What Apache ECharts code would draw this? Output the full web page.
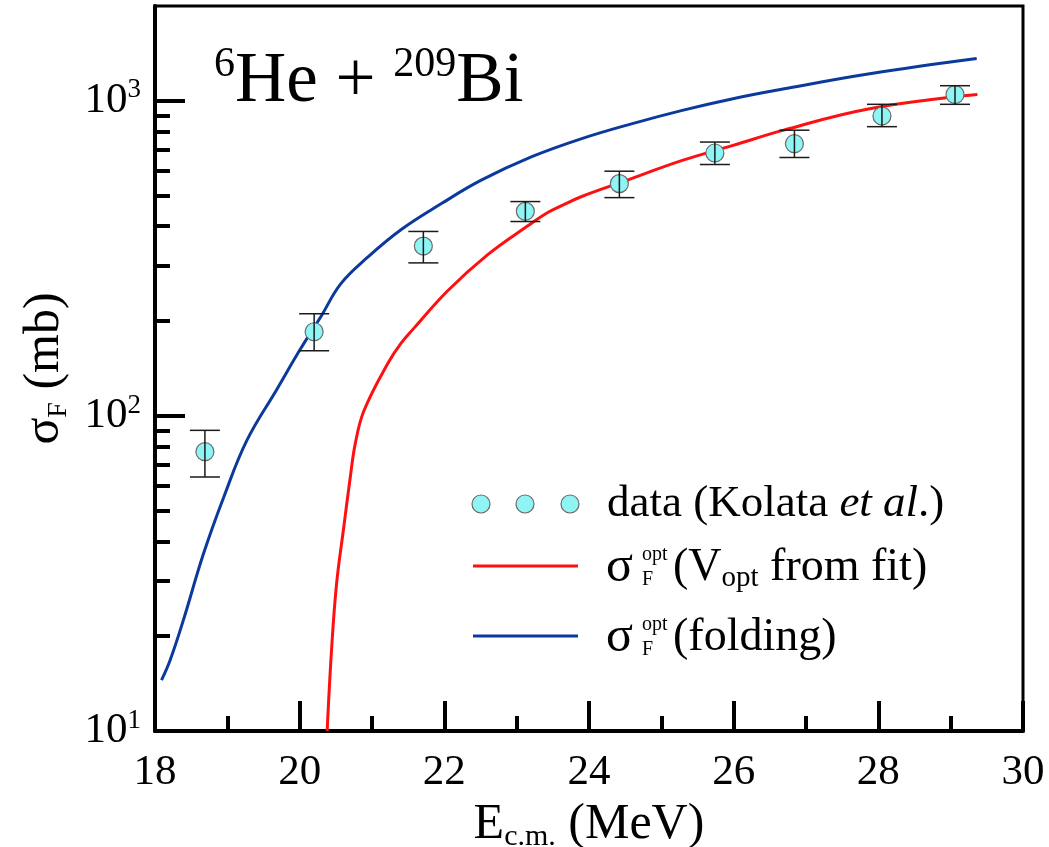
<!DOCTYPE html>
<html>
<head>
<meta charset="utf-8">
<script src="https://cdn.jsdelivr.net/npm/echarts@6/dist/echarts.min.js"></script>
<style>
  html, body { margin: 0; padding: 0; background: #fff; }
  #chart { width: 1049px; height: 847px; }
</style>
</head>
<body>
<div id="chart"></div>
<script>
const SERIF = '"Liberation Serif", "Times New Roman", serif';

// Fission cross sections, data of Kolata et al. (E_cm in MeV, sigma in mb)
const dataE     = [18.69, 20.20, 21.71, 23.12, 24.42, 25.74, 26.84, 28.05, 29.06];
const dataSigma = [77, 185, 346, 446, 546, 683, 731, 895, 1047];
const dataLow   = [64, 161, 306, 414, 493, 628, 661, 828, 975];
const dataHigh  = [90, 211, 385, 479, 598, 740, 807, 975, 1117];

// sigma_F^opt with V_opt from fit
const fitE     = [20.38, 20.44, 20.51, 20.61, 20.70, 20.77, 20.89, 21.22, 21.40, 21.59, 22.05, 22.60, 23.16, 23.43, 23.63, 23.90, 24.46, 25.29, 25.99, 26.68, 27.88, 29.37];
const fitSigma = [10, 18, 29.3, 44.4, 64, 82, 104, 147, 170, 191, 250, 325, 402, 442, 466, 497, 553, 647, 722, 806, 944, 1047];

// sigma_F^opt from the folding potential
const foldE     = [18.09, 18.21, 18.39, 18.67, 18.95, 19.27, 19.69, 20.01, 20.29, 20.57, 20.94, 21.40, 21.96, 22.51, 23.21, 23.90, 24.60, 25.29, 25.99, 26.68, 27.88, 29.36];
const foldSigma = [14.5, 16.8, 22.4, 36.5, 55.2, 83.6, 122, 163, 206, 263, 319, 390, 472, 560, 665, 759, 847, 933, 1016, 1090, 1219, 1362];

// Axis ticks
const yMajorTicks = [10, 100, 1000];
const yMinorTicks = [20, 30, 40, 50, 60, 70, 80, 90, 200, 300, 400, 500, 600, 700, 800, 900];

const zip = (xs, ys) => xs.map((x, i) => [x, ys[i]]);

const chart = echarts.init(document.getElementById('chart'), null, { renderer: 'canvas' });

const tickStyle = { color: '#000', width: 4 };
const txt = (size, extra) => Object.assign({ fontSize: size, fontFamily: SERIF, color: '#000' }, extra || {});

const option = {
  animation: false,
  backgroundColor: '#fff',
  textStyle: { fontFamily: SERIF, color: '#000' },
  grid: {
    left: 155, right: 26, top: 6, bottom: 116,
    outerBoundsMode: 'none',
    containLabel: false,
    show: true, borderColor: '#000', borderWidth: 3, backgroundColor: 'transparent'
  },
  xAxis: {
    type: 'value', min: 18, max: 30, interval: 2,
    name: '{e|E}{sub|c.m.}{e| (MeV)}',
    nameLocation: 'middle', nameGap: 62,
    nameTextStyle: {
      fontFamily: SERIF,
      rich: {
        e: txt(50, { lineHeight: 56 }),
        sub: txt(30, { verticalAlign: 'bottom', lineHeight: 52 })
      }
    },
    axisLine: { lineStyle: tickStyle },
    axisTick: { inside: true, length: 30, lineStyle: tickStyle },
    minorTick: { show: true, splitNumber: 2, length: 15, lineStyle: tickStyle },
    splitLine: { show: false },
    minorSplitLine: { show: false },
    axisLabel: {
      margin: 19,
      fontFamily: SERIF,
      fontSize: 43,
      color: '#000',
      formatter: v => '{a|' + v + '}',
      rich: { a: txt(43, { lineHeight: 46 }) }
    }
  },
  yAxis: [
    {
      type: 'log', logBase: 10, min: 10, max: 2000,
      name: '{s|σ}{sub|F}{s| (mb)}',
      nameLocation: 'middle', nameGap: 82, nameRotate: 90,
      nameTextStyle: {
        fontFamily: SERIF,
        rich: {
          s: txt(50, { lineHeight: 56 }),
          sub: txt(28, { verticalAlign: 'bottom', lineHeight: 52 })
        }
      },
      axisLine: { lineStyle: tickStyle },
      axisTick: { inside: true, length: 30, lineStyle: tickStyle, customValues: yMajorTicks },
      splitLine: { show: false },
      axisLabel: {
        customValues: yMajorTicks,
        margin: 14,
        fontFamily: SERIF,
        formatter: v => '{b|10}{p|' + Math.round(Math.log10(v)) + '}',
        rich: {
          b: txt(43, { lineHeight: 48 }),
          p: txt(27, { verticalAlign: 'top', lineHeight: 48 })
        }
      }
    },
    {
      type: 'log', logBase: 10, min: 10, max: 2000, position: 'left',
      axisLine: { show: false },
      axisTick: { inside: true, length: 15, lineStyle: tickStyle, customValues: yMinorTicks },
      axisLabel: { show: false },
      splitLine: { show: false }
    }
  ],
  series: [
    {
      name: 'folding', type: 'line', data: zip(foldE, foldSigma),
      smooth: 0.4, showSymbol: false,
      lineStyle: { color: '#0c3a9c', width: 3 }, z: 3
    },
    {
      name: 'fit', type: 'line', data: zip(fitE, fitSigma),
      smooth: 0.4, showSymbol: false,
      lineStyle: { color: '#ff1010', width: 3 }, z: 3
    },
    {
      name: 'data', type: 'scatter', data: zip(dataE, dataSigma),
      symbol: 'circle', symbolSize: 18,
      itemStyle: { color: '#8ff4f4', borderColor: '#6a6a6a', borderWidth: 1.2, opacity: 1 },
      z: 4
    },
    {
      name: 'errors', type: 'custom',
      data: dataE.map((x, i) => [x, dataLow[i], dataHigh[i]]),
      renderItem: (params, api) => {
        const x = api.value(0);
        const lo = api.coord([x, api.value(1)]);
        const hi = api.coord([x, api.value(2)]);
        const half = 15;
        const st = { stroke: '#1a1a1a', lineWidth: 1.5 };
        return {
          type: 'group',
          children: [
            { type: 'line', shape: { x1: hi[0], y1: hi[1], x2: lo[0], y2: lo[1] }, style: st },
            { type: 'line', shape: { x1: hi[0] - half, y1: hi[1], x2: hi[0] + half, y2: hi[1] }, style: st },
            { type: 'line', shape: { x1: lo[0] - half, y1: lo[1], x2: lo[0] + half, y2: lo[1] }, style: st }
          ]
        };
      },
      z: 5
    }
  ],
  graphic: [
    // reaction label
    {
      type: 'text', x: 214, y: 82,
      style: {
        text: '{p|6}{n|He + }{p|209}{n|Bi}',
        verticalAlign: 'middle',
        rich: {
          n: { fontSize: 71, fontFamily: SERIF, fill: '#000', lineHeight: 76 },
          p: { fontSize: 42, fontFamily: SERIF, fill: '#000', verticalAlign: 'top', lineHeight: 76 }
        }
      }
    },
    // legend: data symbols
    { type: 'circle', shape: { cx: 481, cy: 504, r: 9 }, style: { fill: '#8ff4f4', stroke: '#6a6a6a', lineWidth: 1.2 } },
    { type: 'circle', shape: { cx: 525, cy: 504, r: 9 }, style: { fill: '#8ff4f4', stroke: '#6a6a6a', lineWidth: 1.2 } },
    { type: 'circle', shape: { cx: 570, cy: 504, r: 9 }, style: { fill: '#8ff4f4', stroke: '#6a6a6a', lineWidth: 1.2 } },
    {
      type: 'text', x: 607, y: 504,
      style: {
        text: '{n|data (Kolata }{i|et al}{n|.)}',
        verticalAlign: 'middle',
        rich: {
          n: { fontSize: 45, fontFamily: SERIF, fill: '#000' },
          i: { fontSize: 45, fontFamily: SERIF, fontStyle: 'italic', fill: '#000' }
        }
      }
    },
    // legend: fit curve
    { type: 'line', shape: { x1: 473, y1: 566, x2: 578, y2: 566 }, style: { stroke: '#ff1010', lineWidth: 3 } },
    { type: 'text', x: 606, y: 568, style: { text: 'σ', fontSize: 50, fontFamily: SERIF, fill: '#000', verticalAlign: 'middle' } },
    { type: 'text', x: 642, y: 555, style: { text: 'opt', fontSize: 20, fontFamily: SERIF, fill: '#000', verticalAlign: 'middle' } },
    { type: 'text', x: 642, y: 580, style: { text: 'F', fontSize: 20, fontFamily: SERIF, fill: '#000', verticalAlign: 'middle' } },
    {
      type: 'text', x: 673, y: 568,
      style: {
        text: '{n|(V}{s|opt}{n| from fit)}',
        verticalAlign: 'middle',
        rich: {
          n: { fontSize: 46, fontFamily: SERIF, fill: '#000', lineHeight: 50 },
          s: { fontSize: 29, fontFamily: SERIF, fill: '#000', verticalAlign: 'bottom', lineHeight: 50 }
        }
      }
    },
    // legend: folding curve
    { type: 'line', shape: { x1: 473, y1: 636, x2: 578, y2: 636 }, style: { stroke: '#0c3a9c', lineWidth: 3 } },
    { type: 'text', x: 606, y: 638, style: { text: 'σ', fontSize: 50, fontFamily: SERIF, fill: '#000', verticalAlign: 'middle' } },
    { type: 'text', x: 642, y: 625, style: { text: 'opt', fontSize: 20, fontFamily: SERIF, fill: '#000', verticalAlign: 'middle' } },
    { type: 'text', x: 642, y: 650, style: { text: 'F', fontSize: 20, fontFamily: SERIF, fill: '#000', verticalAlign: 'middle' } },
    { type: 'text', x: 673, y: 638, style: { text: '(folding)', fontSize: 46, fontFamily: SERIF, fill: '#000', verticalAlign: 'middle' } }
  ]
};

chart.setOption(option);
</script>
</body>
</html>
